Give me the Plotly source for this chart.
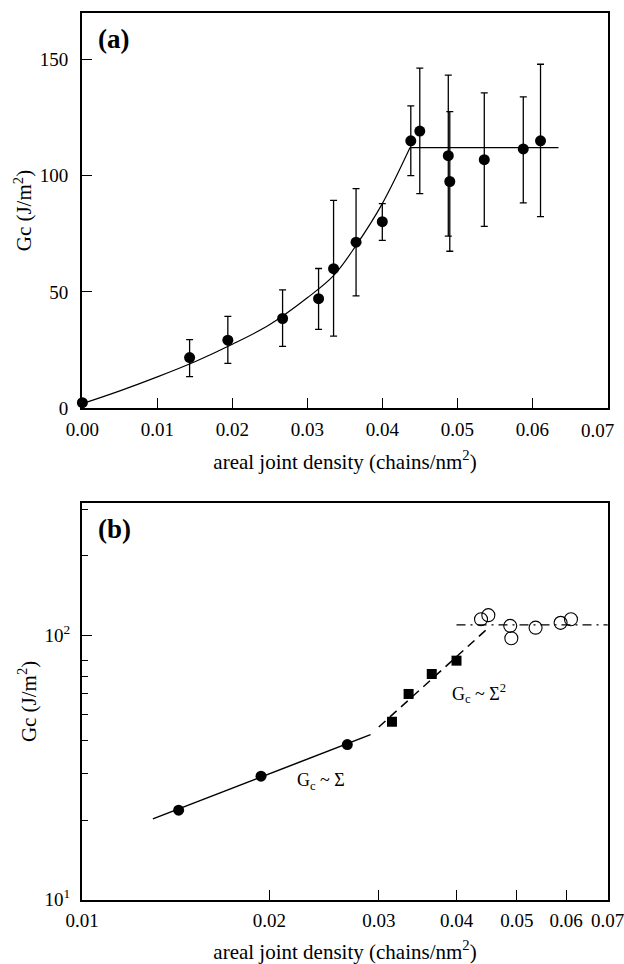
import numpy as np
import plotly.graph_objects as go

# ---------------- data ----------------
density = [0.0, 0.0143, 0.0194, 0.0267, 0.0315, 0.0335, 0.0365, 0.0400,
           0.0438, 0.0450, 0.0488, 0.0490, 0.0536, 0.0588, 0.0611]
gc = [2.4, 21.8, 29.3, 38.6, 47.1, 60.0, 71.4, 80.2,
      115.0, 119.2, 108.6, 97.5, 106.9, 111.5, 115.0]
gc_upper = [2.4, 29.5, 39.5, 50.9, 60.1, 89.4, 94.4, 88.0,
            130.0, 146.2, 143.2, 127.5, 135.6, 133.9, 147.9]
gc_lower = [2.4, 13.6, 19.3, 26.6, 33.9, 31.0, 48.3, 72.2,
            100.0, 92.3, 74.0, 67.5, 78.2, 88.3, 82.4]

# fitted curve (panel a)
curve_x = [0.0, 0.005, 0.010, 0.015, 0.020, 0.025, 0.030, 0.0335, 0.0365, 0.040, 0.0437]
curve_y = [2.0, 7.5, 13.5, 20.0, 27.5, 36.0, 47.5, 57.0, 70.0, 88.0, 112.1]
plateau_x = [0.0437, 0.0635]
plateau_y = [112.1, 112.1]

# panel b groups (indices into data)
idx_linear = [1, 2, 3]
idx_square = [4, 5, 6, 7]
idx_plateau = [8, 9, 10, 11, 12, 13, 14]

fit1_x = [0.0130, 0.0291]
fit1_y = [20.2, 42.1]
fit2_x = [0.0300, 0.0452]
fit2_y = [45.0, 107.7]
fit3_x = [0.0400, 0.0700]
fit3_y = [109.5, 109.5]

xticks_a = [0.0, 0.01, 0.02, 0.03, 0.04, 0.05, 0.06, 0.07]
xticklabels_a = ["0.00", "0.01", "0.02", "0.03", "0.04", "0.05", "0.06", ""]
last_label_a = "0.07"
yticks_a = [0, 50, 100, 150]
xticks_b = [0.01, 0.02, 0.03, 0.04, 0.05, 0.06, 0.07]
xticklabels_b = ["0.01", "0.02", "0.03", "0.04", "0.05", "0.06", "0.07"]
yticks_b = [10, 100]
yticklabels_b = ["10<sup>1</sup>", "10<sup>2</sup>"]
yminor_b = [20, 30, 40, 50, 60, 70, 80, 200, 300]

ann1_pos = (0.02424, 28.0)
ann2_pos = (0.0434, 60.0)

# ---------------- figure ----------------
FONT = "Liberation Serif"
W, H = 624, 964
L, R = 82, 618
a_top, a_bot = 13, 413
b_top, b_bot = 509, 910

fig = go.Figure()

err_plus = [u - v for u, v in zip(gc_upper, gc)]
err_minus = [v - l for v, l in zip(gc, gc_lower)]

fig.add_trace(go.Scatter(x=curve_x, y=curve_y, mode="lines", line=dict(color="black", width=1.2, shape="spline"),
                         xaxis="x", yaxis="y", hoverinfo="skip"))
fig.add_trace(go.Scatter(x=plateau_x, y=plateau_y, mode="lines", line=dict(color="black", width=1.2),
                         xaxis="x", yaxis="y", hoverinfo="skip"))
fig.add_trace(go.Scatter(x=density, y=gc, mode="markers",
                         marker=dict(symbol="circle", size=11, color="black"),
                         error_y=dict(type="data", array=err_plus, arrayminus=err_minus, visible=True,
                                      color="black", thickness=1.3, width=3.5),
                         xaxis="x", yaxis="y", cliponaxis=False))

# panel b
fig.add_trace(go.Scatter(x=fit1_x, y=fit1_y, mode="lines", line=dict(color="black", width=1.5),
                         xaxis="x2", yaxis="y2"))
fig.add_trace(go.Scatter(x=fit2_x, y=fit2_y, mode="lines", line=dict(color="black", width=1.5, dash="9px,6px"),
                         xaxis="x2", yaxis="y2"))
fig.add_trace(go.Scatter(x=fit3_x, y=fit3_y, mode="lines", line=dict(color="black", width=1.2, dash="9px,5px,2px,5px"),
                         xaxis="x2", yaxis="y2"))
fig.add_trace(go.Scatter(x=[density[i] for i in idx_linear], y=[gc[i] for i in idx_linear], mode="markers",
                         marker=dict(symbol="circle", size=11, color="black"), xaxis="x2", yaxis="y2"))
fig.add_trace(go.Scatter(x=[density[i] for i in idx_square], y=[gc[i] for i in idx_square], mode="markers",
                         marker=dict(symbol="square", size=10, color="black"), xaxis="x2", yaxis="y2"))
fig.add_trace(go.Scatter(x=[density[i] for i in idx_plateau], y=[gc[i] for i in idx_plateau], mode="markers",
                         marker=dict(symbol="circle-open", size=13, color="black", line=dict(width=1.1)),
                         xaxis="x2", yaxis="y2"))

axis_common = dict(showline=True, linecolor="black", linewidth=2, mirror=True, showgrid=False, zeroline=False,
                   ticks="inside", tickcolor="black", tickwidth=1.3, ticklen=10, ticklabeloverflow="allow",
                   tickfont=dict(family=FONT, size=19, color="black"))

title_x = "areal joint density (chains/nm<sup>2</sup>)"
title_y = "Gc (J/m<sup>2</sup>)"

def dom(top, bot):
    return [1 - bot / H, 1 - top / H]

fig.update_layout(
    width=W, height=H, margin=dict(l=L, r=W - R, t=0, b=0),
    paper_bgcolor="white", plot_bgcolor="white", showlegend=False,
    font=dict(family=FONT, color="black", size=19),
    xaxis=dict(axis_common, domain=[0, 1], anchor="y", range=[-0.00005, 0.0701],
               tickvals=xticks_a, ticktext=xticklabels_a, ticklabelstandoff=3,
               title=dict(text=title_x, font=dict(family=FONT, size=21), standoff=15)),
    yaxis=dict(axis_common, domain=dom(a_top, a_bot), anchor="x", range=[0, 170],
               tickvals=yticks_a, ticklabelstandoff=8,
               title=dict(text=title_y, font=dict(family=FONT, size=21), standoff=2)),
    xaxis2=dict(axis_common, domain=[0, 1], anchor="y2", type="log",
                range=[np.log10(0.01), np.log10(0.07008)],
                tickvals=xticks_b, ticktext=xticklabels_b, ticklabelstandoff=3,
                title=dict(text=title_x, font=dict(family=FONT, size=21), standoff=15)),
    yaxis2=dict(axis_common, domain=dom(b_top, b_bot), anchor="x2", type="log",
                range=[1, 2.5], tickvals=yticks_b, ticktext=yticklabels_b, ticklabelstandoff=6,
                minor=dict(tickvals=yminor_b, ticks="inside", ticklen=6, tickcolor="black", tickwidth=1.2),
                title=dict(text=title_y, font=dict(family=FONT, size=21), standoff=2)),
    annotations=[
        dict(text="<b>(a)</b>", xref="x domain", yref="y domain", x=0.027, y=0.934, xanchor="left",
             yanchor="middle", showarrow=False, font=dict(family=FONT, size=27, color="black")),
        dict(text="<b>(b)</b>", xref="x2 domain", yref="y2 domain", x=0.027, y=0.936, xanchor="left",
             yanchor="middle", showarrow=False, font=dict(family=FONT, size=27, color="black")),
        dict(text="G<sub>c</sub> ~ Σ", xref="x2", yref="y2", x=np.log10(ann1_pos[0]), y=np.log10(ann1_pos[1]),
             showarrow=False, font=dict(family=FONT, size=18, color="black")),
        dict(text="G<sub>c</sub> ~ Σ<sup>2</sup>", xref="x2", yref="y2", x=np.log10(ann2_pos[0]),
             y=np.log10(ann2_pos[1]), showarrow=False, font=dict(family=FONT, size=18, color="black")),
        dict(text=last_label_a, xref="paper", yref="y domain", x=(607 - L) / (R - L), y=0, xanchor="center",
             yanchor="top", yshift=-11, showarrow=False, borderpad=0,
             font=dict(family=FONT, size=19, color="black")),
    ],
)

fig.write_html("out.html", config={"displayModeBar": False},
               post_script="document.body.style.margin='0';document.body.style.overflow='hidden';")
